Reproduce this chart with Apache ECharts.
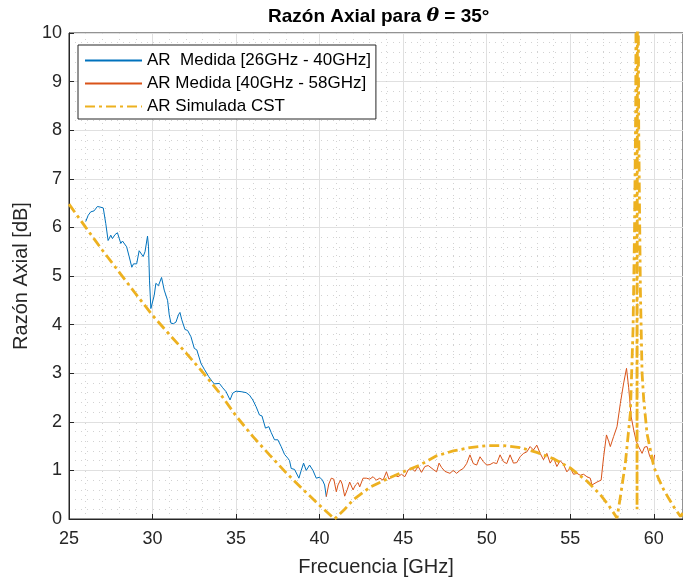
<!DOCTYPE html>
<html>
<head>
<meta charset="utf-8">
<script src="https://cdn.jsdelivr.net/npm/echarts@6/dist/echarts.min.js"></script>
<style>
  html, body { margin: 0; padding: 0; background: #fff; }
  #chart { width: 683px; height: 584px; }
</style>
</head>
<body>
<div id="chart"></div>
<script>
// AR medida 26-40 GHz
const freqLow = [26.0, 26.15, 26.3, 26.5, 26.6, 26.7, 26.85, 26.96, 27.05, 27.2, 27.34, 27.42, 27.5, 27.6, 27.75, 27.9, 28.0, 28.1, 28.2, 28.3, 28.45, 28.6, 28.76, 28.86, 28.96, 29.05, 29.2, 29.3, 29.44, 29.55, 29.7, 29.76, 29.82, 29.9, 29.98, 30.1, 30.2, 30.35, 30.54, 30.7, 30.9, 31.0, 31.1, 31.25, 31.4, 31.55, 31.64, 31.75, 31.94, 32.1, 32.3, 32.5, 32.65, 32.9, 33.1, 33.36, 33.55, 33.7, 34.0, 34.2, 34.4, 34.64, 34.8, 35.0, 35.3, 35.6, 35.8, 36.0, 36.2, 36.4, 36.55, 36.76, 36.96, 37.1, 37.3, 37.5, 37.7, 37.9, 38.1, 38.2, 38.3, 38.5, 38.76, 38.9, 39.04, 39.2, 39.4, 39.6, 39.8, 40.0, 40.17, 40.3, 40.4];
const arLow = [6.12, 6.25, 6.32, 6.34, 6.33, 6.43, 6.42, 6.46, 6.4, 6.08, 5.73, 5.78, 5.84, 5.77, 5.85, 5.89, 5.78, 5.67, 5.72, 5.7, 5.6, 5.4, 5.18, 5.25, 5.29, 5.25, 5.52, 5.56, 5.4, 5.5, 5.82, 5.6, 4.9, 4.33, 4.3, 4.6, 4.85, 4.8, 4.97, 4.71, 4.5, 4.2, 4.03, 4.02, 4.05, 4.2, 4.25, 4.1, 3.9, 3.88, 3.75, 3.51, 3.48, 3.2, 3.08, 2.93, 2.84, 2.78, 2.79, 2.7, 2.62, 2.45, 2.59, 2.63, 2.62, 2.6, 2.55, 2.45, 2.31, 2.14, 2.12, 1.87, 1.9, 1.78, 1.63, 1.63, 1.49, 1.33, 1.25, 1.2, 1.04, 1.02, 0.84, 1.0, 1.15, 1.0, 1.11, 1.0, 0.84, 0.86, 0.8, 0.7, 0.46];

// AR medida 40-58 GHz
const freqHigh = [40.4, 40.55, 40.7, 40.85, 41.0, 41.1, 41.25, 41.35, 41.5, 41.65, 41.8, 41.9, 42.0, 42.15, 42.3, 42.4, 42.6, 42.8, 43.0, 43.2, 43.4, 43.6, 43.8, 44.0, 44.15, 44.35, 44.5, 44.7, 44.9, 45.1, 45.3, 45.5, 45.7, 45.9, 46.1, 46.3, 46.5, 46.8, 47.0, 47.15, 47.3, 47.5, 47.8, 48.0, 48.2, 48.4, 48.6, 48.8, 49.0, 49.2, 49.4, 49.6, 49.8, 50.0, 50.2, 50.4, 50.6, 50.8, 51.0, 51.2, 51.4, 51.6, 51.8, 52.0, 52.2, 52.4, 52.6, 52.8, 53.0, 53.2, 53.4, 53.6, 53.8, 54.0, 54.2, 54.4, 54.6, 54.8, 55.0, 55.2, 55.4, 55.6, 55.8, 56.0, 56.2, 56.3, 56.4, 56.6, 56.85, 57.0, 57.17, 57.3, 57.4, 57.6, 57.8, 58.0, 58.2, 58.37, 58.5, 58.65, 58.8, 58.95, 59.05, 59.15, 59.3, 59.45, 59.6, 59.75, 59.97, 60.05];
const arHigh = [0.46, 0.72, 0.84, 0.82, 0.56, 0.7, 0.8, 0.72, 0.47, 0.6, 0.76, 0.77, 0.6, 0.7, 0.75, 0.66, 0.84, 0.84, 0.82, 0.87, 0.8, 0.84, 0.8, 0.97, 0.82, 0.87, 0.9, 0.87, 0.92, 0.87, 1.01, 1.05, 0.98, 1.08, 0.96, 1.08, 1.1, 1.02, 0.97, 1.15, 1.06, 0.98, 0.94, 1.0, 0.94, 1.0, 1.04, 1.14, 1.32, 1.14, 1.11, 1.28, 1.18, 1.11, 1.12, 1.16, 1.14, 1.32, 1.18, 1.14, 1.32, 1.15, 1.16, 1.28, 1.35, 1.38, 1.49, 1.42, 1.52, 1.35, 1.22, 1.35, 1.15, 1.26, 1.08, 1.2, 1.12, 0.97, 1.05, 0.92, 0.94, 0.9, 0.92, 0.87, 0.84, 0.7, 0.66, 0.76, 0.8, 1.28, 1.73, 1.6, 1.49, 1.7, 1.9, 2.38, 2.8, 3.1, 2.7, 2.1, 1.83, 1.6, 1.52, 1.55, 1.35, 1.48, 1.49, 1.3, 1.14, 1.32];

// AR simulada CST
const freqSim = [25, 26, 27, 28, 29, 30, 31, 32, 33, 34, 35, 36, 37, 38, 39, 40, 40.9, 41.5, 42, 43, 44, 45, 46, 47, 48, 49, 50, 51, 52, 53, 54, 55, 56, 56.8, 57.3, 57.8, 58.0, 58.3, 58.6, 58.76, 58.85, 58.92, 58.97, 59.0, 59.03, 59.1, 59.2, 59.3, 59.4, 59.6, 59.8, 60.0, 60.3, 60.6, 60.9, 61.2, 61.6, 61.8];
const arSim = [6.48, 6.0, 5.53, 5.08, 4.63, 4.19, 3.8, 3.42, 3.02, 2.6, 2.12, 1.7, 1.32, 0.95, 0.61, 0.28, 0.0, 0.2, 0.39, 0.65, 0.82, 0.97, 1.11, 1.3, 1.4, 1.47, 1.51, 1.51, 1.47, 1.37, 1.24, 1.05, 0.78, 0.5, 0.28, 0.02, 0.45, 1.15, 2.18, 3.9, 5.95, 8.5, 14, 0.2, 14, 8, 4.7, 3.0, 2.45, 1.75, 1.42, 1.08, 0.82, 0.6, 0.42, 0.25, 0.05, 0.15];

const pairs = (xs, ys) => xs.map((x, i) => [x, ys[i]]);

const axisColor = '#262626';
const font = 'Liberation Sans, Arial, sans-serif';

const chart = echarts.init(document.getElementById('chart'));

const option = {
    animation: false,
    backgroundColor: '#fff',
    title: {
        text: '{b|Razón Axial para }{t|θ}{b| = 35°}',
        left: 263,
        top: 2,
        textStyle: {
            rich: {
                b: { fontFamily: font, fontWeight: 'bold', fontSize: 19, color: '#000' },
                t: { fontFamily: 'DejaVu Serif, serif', fontStyle: 'italic', fontSize: 19, color: '#000' }
            }
        }
    },
    legend: {
        left: 78,
        top: 45,
        orient: 'vertical',
        padding: [7, 5, 4, 6],
        itemGap: 6,
        itemWidth: 57,
        itemHeight: 14,
        backgroundColor: '#fff',
        borderColor: axisColor,
        borderWidth: 1,
        // hide the symbol drawn in the middle of the legend line
        itemStyle: { opacity: 0 },
        textStyle: { fontFamily: font, fontSize: 17, color: '#000' },
        data: ['AR  Medida [26GHz - 40GHz]', 'AR Medida [40GHz - 58GHz]', 'AR Simulada CST']
    },
    grid: {
        left: 69,
        right: 0,
        top: 33,
        bottom: 65,
        show: true,
        borderColor: axisColor,
        borderWidth: 1
    },
    xAxis: {
        type: 'value',
        min: 25,
        max: 61.75,
        interval: 5,
        name: 'Frecuencia [GHz]',
        nameLocation: 'middle',
        nameGap: 38,
        nameTextStyle: { fontFamily: font, fontSize: 20, color: axisColor },
        axisLine: { show: true, lineStyle: { color: axisColor } },
        axisTick: { inside: true, length: 5, lineStyle: { color: axisColor } },
        axisLabel: { showMaxLabel: false, fontFamily: font, fontSize: 18, color: axisColor, margin: 11 },
        splitLine: { show: true, lineStyle: { color: '#e0e0e0', width: 1 } },
        minorTick: { show: false, splitNumber: 5 },
        minorSplitLine: { show: true, lineStyle: { color: '#d2d2d2', type: [1, 5] } }
    },
    yAxis: {
        type: 'value',
        min: 0,
        max: 10,
        interval: 1,
        name: 'Razón Axial [dB]',
        nameLocation: 'middle',
        nameGap: 32,
        nameTextStyle: { fontFamily: font, fontSize: 20, color: axisColor },
        axisLine: { show: true, lineStyle: { color: axisColor } },
        axisTick: { inside: true, length: 5, lineStyle: { color: axisColor } },
        axisLabel: { fontFamily: font, fontSize: 18, color: axisColor, margin: 7 },
        splitLine: { show: true, lineStyle: { color: '#e0e0e0', width: 1 } },
        minorTick: { show: false, splitNumber: 5 },
        minorSplitLine: { show: true, lineStyle: { color: '#d2d2d2', type: [1, 5] } }
    },
    series: [
        {
            name: 'AR  Medida [26GHz - 40GHz]',
            type: 'line',
            data: pairs(freqLow, arLow),
            symbol: 'none',
            lineStyle: { color: '#0072BD', width: 1 },
            itemStyle: { color: '#0072BD' }
        },
        {
            name: 'AR Medida [40GHz - 58GHz]',
            type: 'line',
            data: pairs(freqHigh, arHigh),
            symbol: 'none',
            lineStyle: { color: '#D95319', width: 1 },
            itemStyle: { color: '#D95319' }
        },
        {
            name: 'AR Simulada CST',
            type: 'line',
            data: pairs(freqSim, arSim),
            symbol: 'none',
            lineStyle: { color: '#EDB120', width: 2.8, type: [10, 4, 3, 4] },
            itemStyle: { color: '#EDB120' }
        }
    ]
};

chart.setOption(option);
</script>
</body>
</html>
